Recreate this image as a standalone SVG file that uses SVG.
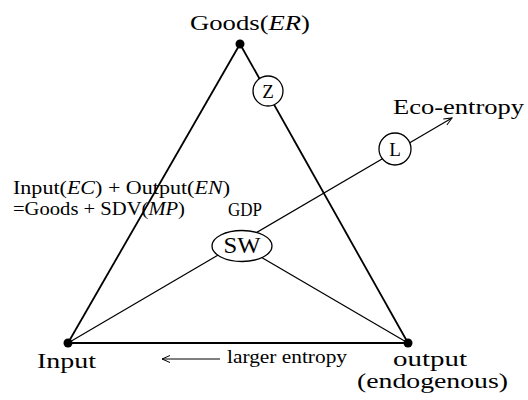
<svg xmlns="http://www.w3.org/2000/svg" width="528" height="400" viewBox="0 0 528 400">
<style>
text{font-family:"Liberation Serif","DejaVu Serif",serif;fill:#000}
.it{font-style:italic}
.side{stroke:#000;stroke-width:1.8;fill:none}
.thin{stroke:#000;stroke-width:1.2;fill:none}
.node{fill:#fff;stroke:#000;stroke-width:1.3}
.dot{fill:#000}
</style>
<defs>
<marker id="arr" markerWidth="10" markerHeight="10" refX="9" refY="5" orient="auto" markerUnits="userSpaceOnUse">
<path d="M1,1.5 L9,5 L1,8.5" fill="none" stroke="#000" stroke-width="1"/>
</marker>
</defs>
<rect width="528" height="400" fill="#fff"/>
<g id="connectors">
<line class="side" x1="240" y1="44" x2="68" y2="343"/>
<line class="side" x1="240" y1="44" x2="408" y2="343"/>
<line class="side" x1="68" y1="343" x2="408" y2="343"/>
<line class="thin" x1="68" y1="343" x2="452" y2="118" marker-end="url(#arr)"/>
<line class="thin" x1="242" y1="246" x2="408" y2="343"/>
<line x1="220" y1="359" x2="162" y2="359" stroke="#000" stroke-width="1" marker-end="url(#arr)"/>
</g>
<g id="goods">
<circle class="dot" cx="240" cy="44" r="4.5"/>
<text x="190" y="30" font-size="22" textLength="120" lengthAdjust="spacingAndGlyphs">Goods(<tspan class="it">ER</tspan>)</text>
</g>
<g id="input">
<circle class="dot" cx="68" cy="343" r="4.5"/>
<text x="37" y="368" font-size="22" textLength="59" lengthAdjust="spacingAndGlyphs">Input</text>
</g>
<g id="output">
<circle class="dot" cx="408" cy="343" r="4.5"/>
<text x="393" y="366" font-size="21" textLength="74" lengthAdjust="spacingAndGlyphs">output</text>
<text x="357" y="388" font-size="21" textLength="151" lengthAdjust="spacingAndGlyphs">(endogenous)</text>
</g>
<g id="Z">
<circle class="node" cx="268" cy="91" r="15"/>
<text x="268" y="98" font-size="19" text-anchor="middle">Z</text>
</g>
<g id="L">
<circle class="node" cx="395" cy="149" r="16"/>
<text x="395" y="156" font-size="19" text-anchor="middle">L</text>
</g>
<g id="SW">
<ellipse class="node" cx="242" cy="246" rx="30" ry="15.5" stroke-width="1.5"/>
<text x="242" y="253" font-size="23" text-anchor="middle" textLength="37" lengthAdjust="spacingAndGlyphs">SW</text>
<text x="228" y="216" font-size="18" textLength="34" lengthAdjust="spacingAndGlyphs">GDP</text>
</g>
<g id="eco-entropy">
<text x="393" y="114" font-size="21" textLength="131" lengthAdjust="spacingAndGlyphs">Eco-entropy</text>
</g>
<g id="equation">
<text x="13" y="194" font-size="19" textLength="217" lengthAdjust="spacingAndGlyphs">Input(<tspan class="it">EC</tspan>) + Output(<tspan class="it">EN</tspan>)</text>
<text x="13" y="215" font-size="19" textLength="172" lengthAdjust="spacingAndGlyphs">=Goods + SDV(<tspan class="it">MP</tspan>)</text>
</g>
<g id="larger-entropy">
<text x="227" y="363" font-size="18" textLength="120" lengthAdjust="spacingAndGlyphs">larger entropy</text>
</g>
</svg>
